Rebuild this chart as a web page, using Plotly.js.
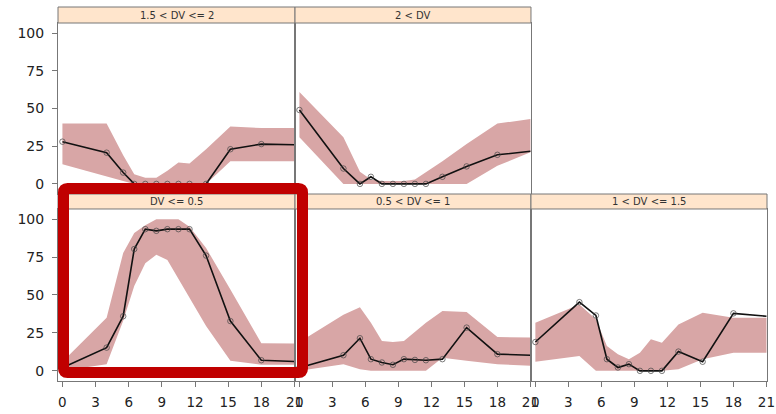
<!DOCTYPE html>
<html>
<head>
<meta charset="utf-8">
<script src="https://cdn.plot.ly/plotly-3.0.1.min.js"></script>
<style>html,body{margin:0;padding:0;background:#fff}#chart{width:776px;height:414px}</style>
</head>
<body>
<div id="chart"></div>
<script>
// Shared time grid (the last entry only carries the line to the panel edge)
const TIME = [0, 4, 5.5, 6.5, 7.5, 8.5, 9.5, 10.5, 11.5, 13, 15.2, 18, 21];
const X_TICKS = [0, 3, 6, 9, 12, 15, 18, 21];
const Y_TICKS = [0, 25, 50, 75, 100];

const STRIP_LABELS = ["DV <= 0.5", "0.5 < DV <= 1", "1 < DV <= 1.5", "1.5 < DV <= 2", "2 < DV"];

// DV <= 0.5
const OBS_C = [2, 15.3, 36, 80.3, 93.4, 92.3, 93.4, 93.4, 93.4, 76, 32.8, 7, 6.2];
const HI_C  = [6, 35, 77.7, 90.8, 96, 100, 100, 100, 95, 81, 53.6, 18.2, 18];
const LO_C  = [0, 4.4, 33, 56, 71, 76.6, 73, 60, 48, 29.5, 6.6, 4, 4];
// 0.5 < DV <= 1
const OBS_D = [2, 10.3, 21.5, 7.7, 5.5, 4, 7.7, 7.2, 7, 7.7, 28.5, 11, 10.3];
const HI_D  = [19, 37, 42, 31.7, 19.7, 19, 19.7, 26, 31.7, 39.4, 38.8, 22.3, 22];
const LO_D  = [0, 4.4, 1, 0, 0, 0, 0, 0, 0, 8.7, 6.6, 4.4, 3.3];
// 1 < DV <= 1.5
const OBS_E = [19, 45.3, 36.5, 7.7, 2.2, 4.4, 0, 0, 0, 12.7, 6, 37.9, 36];
const HI_E  = [31.7, 43.8, 34, 16.4, 11, 7.7, 12, 20.8, 18.6, 30.6, 38.3, 35, 35];
const LO_E  = [6, 9.8, 0, 0, 0, 0, 0, 0, 0, 1, 7.7, 12, 12];
// 1.5 < DV <= 2
const OBS_A = [28, 20.7, 7.5, 0, 0, 0, 0, 0, 0, 0, 23, 26.4, 26];
const HI_A  = [40, 40, 19, 6.4, 4, 4, 8.7, 14.2, 13.5, 23, 38, 37, 37];
const LO_A  = [13, 5, 2, 0, 0, 0, 0, 0, 0, 0, 15, 15, 15];
// 2 < DV
const OBS_B = [49, 10.2, 0, 4.7, 0, 0, 0, 0, 0, 4.7, 11.6, 19.3, 21.6];
const HI_B  = [61, 31, 8, 3, 2, 2, 2, 3, 7.8, 15, 26.5, 40, 43];
const LO_B  = [31, 0, 0, 0, 0, 0, 0, 0, 0, 0, 0, 12, 21];

const BAND_COLOR = 'rgb(216,166,166)';
const LINE_COLOR = '#111';
const AXIS_COLOR = '#777';
const FONT = 'DejaVu Sans, Liberation Sans, Arial, sans-serif';

// Layout geometry (paper fractions)
const COLS = [[0, 0.3343], [0.3343, 0.6671], [0.6671, 1]];
const ROW_BOTTOM = [0, 0.4599];
const STRIP_BOTTOM = [0.4599, 0.5];
const ROW_TOP = [0.5, 0.9572];
const STRIP_TOP = [0.9572, 1];

const panels = [
  {obs: OBS_C, hi: HI_C, lo: LO_C, col: 0, row: 'b', label: STRIP_LABELS[0]},
  {obs: OBS_D, hi: HI_D, lo: LO_D, col: 1, row: 'b', label: STRIP_LABELS[1]},
  {obs: OBS_E, hi: HI_E, lo: LO_E, col: 2, row: 'b', label: STRIP_LABELS[2]},
  {obs: OBS_A, hi: HI_A, lo: LO_A, col: 0, row: 't', label: STRIP_LABELS[3]},
  {obs: OBS_B, hi: HI_B, lo: LO_B, col: 1, row: 't', label: STRIP_LABELS[4]}
];

const traces = [];
const layout = {
  width: 776, height: 414,
  margin: {l: 58, r: 9, t: 7, b: 33},
  paper_bgcolor: '#fff', plot_bgcolor: '#fff',
  showlegend: false,
  font: {family: FONT, color: '#222'},
  shapes: [], annotations: []
};

panels.forEach((p, i) => {
  const n = i + 1;
  const xa = n === 1 ? 'x' : 'x' + n;
  const ya = n === 1 ? 'y' : 'y' + n;
  const xkey = n === 1 ? 'xaxis' : 'xaxis' + n;
  const ykey = n === 1 ? 'yaxis' : 'yaxis' + n;
  const bottom = p.row === 'b';
  const left = p.col === 0;

  traces.push({
    x: TIME.concat(TIME.slice().reverse()),
    y: p.hi.concat(p.lo.slice().reverse()),
    type: 'scatter', mode: 'lines', fill: 'toself',
    fillcolor: BAND_COLOR, line: {width: 0, color: BAND_COLOR},
    hoverinfo: 'skip', xaxis: xa, yaxis: ya
  });
  traces.push({
    x: TIME, y: p.obs,
    type: 'scatter', mode: 'lines+markers',
    line: {color: LINE_COLOR, width: 1.6},
    marker: {symbol: 'circle-open', size: TIME.map((t, k) => k === TIME.length - 1 ? 0 : 5.5),
             color: '#444', line: {width: 1, color: '#444'}},
    cliponaxis: true,
    xaxis: xa, yaxis: ya
  });

  layout[xkey] = {
    domain: COLS[p.col], anchor: ya, range: [-0.4, 21.05],
    showgrid: false, zeroline: false, showline: true, mirror: true,
    linecolor: AXIS_COLOR, linewidth: 1,
    tickvals: X_TICKS, ticktext: X_TICKS.map(String),
    ticks: bottom ? 'outside' : '', ticklen: 5, tickcolor: AXIS_COLOR,
    showticklabels: bottom, ticklabelstandoff: 4,
    tickfont: {size: 13.5, family: FONT, color: '#222'}
  };
  layout[ykey] = {
    domain: bottom ? ROW_BOTTOM : ROW_TOP, anchor: xa, range: [-6.7, 106.7],
    showgrid: false, zeroline: false, showline: true, mirror: true,
    linecolor: AXIS_COLOR, linewidth: 1,
    tickvals: Y_TICKS, ticktext: Y_TICKS.map(String),
    ticks: left ? 'outside' : '', ticklen: 5, tickcolor: AXIS_COLOR,
    showticklabels: left, ticklabelstandoff: 5,
    tickfont: {size: 14, family: FONT, color: '#222'}
  };

  const strip = bottom ? STRIP_BOTTOM : STRIP_TOP;
  layout.shapes.push({
    type: 'rect', xref: 'paper', yref: 'paper',
    x0: COLS[p.col][0], x1: COLS[p.col][1], y0: strip[0], y1: strip[1],
    fillcolor: '#FFE5CC', line: {color: AXIS_COLOR, width: 1}, layer: 'above'
  });
  layout.annotations.push({
    xref: 'paper', yref: 'paper',
    x: (COLS[p.col][0] + COLS[p.col][1]) / 2, y: (strip[0] + strip[1]) / 2,
    xanchor: 'center', yanchor: 'middle', showarrow: false,
    text: p.label, font: {size: 10, family: FONT, color: '#333'}
  });
});

// Red highlight box around the "DV <= 0.5" panel (paper coords)
(function () {
  const W = 709, H = 374;
  const x0 = 5.5 / W, x1 = 244.5 / W;
  const y0 = 8.5 / H, y1 = 192.5 / H;
  const rx = 4 / W, ry = 4 / H;
  const path = `M ${x0 + rx},${y1} L ${x1 - rx},${y1} Q ${x1},${y1} ${x1},${y1 - ry} ` +
    `L ${x1},${y0 + ry} Q ${x1},${y0} ${x1 - rx},${y0} L ${x0 + rx},${y0} Q ${x0},${y0} ${x0},${y0 + ry} ` +
    `L ${x0},${y1 - ry} Q ${x0},${y1} ${x0 + rx},${y1} Z`;
  layout.shapes.push({
    type: 'path', xref: 'paper', yref: 'paper', path: path,
    line: {color: '#C00000', width: 11}, fillcolor: 'rgba(0,0,0,0)', layer: 'above'
  });
})();

Plotly.newPlot('chart', traces, layout, {staticPlot: true, displayModeBar: false});
</script>
</body>
</html>
